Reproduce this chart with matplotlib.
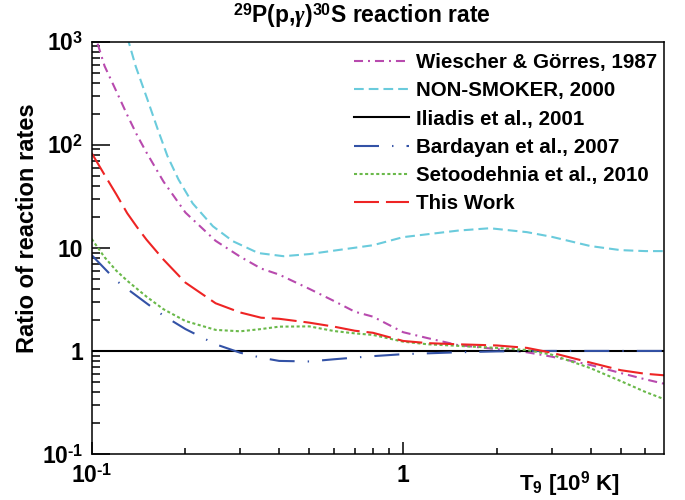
import matplotlib
matplotlib.use("Agg")
import matplotlib.pyplot as plt
from matplotlib.ticker import FixedLocator, FixedFormatter, NullFormatter

plt.rcParams["font.family"] = ["Liberation Sans", "DejaVu Sans"]
plt.rcParams["font.weight"] = "bold"
plt.rcParams["mathtext.fontset"] = "custom"
plt.rcParams["mathtext.rm"] = "Liberation Sans:bold"
plt.rcParams["mathtext.bf"] = "Liberation Sans:bold"
plt.rcParams["mathtext.it"] = "Liberation Serif:italic"
plt.rcParams["lines.scale_dashes"] = False

# rate ratios relative to Iliadis et al. 2001, vs T9
t_wg = [0.1, 0.104, 0.11, 0.12, 0.13, 0.14, 0.15, 0.17, 0.2, 0.25, 0.3, 0.35,
        0.4, 0.5, 0.6, 0.7, 0.8, 1.0, 1.2, 1.5, 2.0, 2.5, 3.0, 4.0, 5.0, 6.0, 6.9]
r_wg = [1500, 1000, 580, 330, 195, 123, 84, 44, 22, 11.7, 8.2, 6.3,
        5.5, 4.0, 3.05, 2.4, 2.15, 1.52, 1.33, 1.14, 1.04, 0.97, 0.88, 0.73, 0.61, 0.53, 0.48]

t_ns = [0.13, 0.1385, 0.151, 0.163, 0.175, 0.19, 0.211, 0.245, 0.284, 0.343,
        0.413, 0.5, 0.6, 0.8, 1.0, 1.5, 1.9, 2.5, 3.0, 4.0, 5.0, 6.0, 6.9]
r_ns = [1120, 575, 275, 141, 78, 46, 27, 16.2, 11.6, 8.9,
        8.3, 8.7, 9.4, 10.6, 12.7, 14.7, 15.5, 14.2, 12.8, 10.4, 9.5, 9.3, 9.3]

t_il = [0.1, 6.9]
r_il = [1.0, 1.0]

t_bd = [0.1, 0.11, 0.12, 0.13, 0.15, 0.17, 0.2, 0.25, 0.3, 0.35, 0.4, 0.5,
        0.6, 0.8, 1.0, 1.5, 2.0, 3.0, 4.0, 5.0, 6.9]
r_bd = [8.5, 6.3, 4.8, 4.0, 2.9, 2.2, 1.63, 1.16, 0.96, 0.86, 0.80, 0.79,
        0.83, 0.89, 0.93, 0.97, 0.99, 1.0, 1.0, 1.0, 1.0]

t_se = [0.1, 0.11, 0.12, 0.13, 0.15, 0.17, 0.2, 0.25, 0.3, 0.35, 0.4, 0.5,
        0.6, 0.7, 0.8, 1.0, 1.2, 1.5, 2.0, 2.5, 3.0, 4.0, 5.0, 6.0, 6.9]
r_se = [12.2, 8.1, 6.0, 4.8, 3.36, 2.54, 1.95, 1.6, 1.55, 1.63, 1.72, 1.73,
        1.56, 1.48, 1.43, 1.23, 1.16, 1.12, 1.07, 1.02, 0.92, 0.68, 0.51, 0.40, 0.34]

t_tw = [0.1, 0.11, 0.12, 0.13, 0.14, 0.15, 0.17, 0.2, 0.25, 0.3, 0.35, 0.4,
        0.5, 0.6, 0.7, 0.8, 1.0, 1.2, 1.5, 2.0, 2.5, 3.0, 4.0, 5.0, 6.0, 6.9]
r_tw = [83, 51, 33, 21.7, 15.8, 12, 7.7, 4.6, 2.9, 2.36, 2.1, 2.05,
        1.88, 1.72, 1.57, 1.5, 1.25, 1.19, 1.16, 1.13, 1.07, 0.96, 0.77, 0.65, 0.6, 0.58]

labels = ["Wiescher & Görres, 1987", "NON-SMOKER, 2000", "Iliadis et al., 2001",
          "Bardayan et al., 2007", "Setoodehnia et al., 2010", "This Work"]

fig = plt.figure(figsize=(6.85, 5), dpi=100)
ax = fig.add_axes([91.7 / 685, 1 - 454 / 500, (664.3 - 91.7) / 685, (454 - 41.7) / 500])

lw = 1.5
ax.plot(t_wg, r_wg, color="#b84aae", lw=lw, dashes=(6.5, 3.6, 1.4, 3.6), label=labels[0])
ax.plot(t_ns, r_ns, color="#6acbdc", lw=lw, dashes=(7, 3.6), label=labels[1])
ax.plot(t_il, r_il, color="black", lw=lw, label=labels[2])
ax.plot(t_bd, r_bd, color="#3352a6", lw=lw, dashes=(18, 9.4, 1, 9.4), label=labels[3])
ax.plot(t_se, r_se, color="#6ab94a", lw=lw, dashes=(2.2, 1.8), label=labels[4])
ax.plot(t_tw, r_tw, color="#ee2424", lw=lw, dashes=(18, 5), label=labels[5])

ax.set_xscale("log")
ax.set_yscale("log")
ax.set_xlim(0.1, 6.9)
ax.set_ylim(0.1, 1000)

ax.xaxis.set_major_locator(FixedLocator([0.1, 1]))
ax.xaxis.set_major_formatter(FixedFormatter([r"$10^{\text{-}1}$", "1"]))
ax.xaxis.set_minor_locator(FixedLocator([0.2, 0.3, 0.4, 0.5, 0.6, 0.7, 0.8, 0.9,
                                         2, 3, 4, 5, 6]))
ax.xaxis.set_minor_formatter(NullFormatter())

yticks = [0.1, 1, 10, 100, 1000]
ax.yaxis.set_major_locator(FixedLocator(yticks))
ax.yaxis.set_major_formatter(FixedFormatter([r"$10^{\text{-}1}$", "1", "10",
                                             r"$10^{2}$", r"$10^{3}$"]))
yminor = [m * 10.0 ** e for e in range(-1, 3) for m in range(2, 10)]
ax.yaxis.set_minor_locator(FixedLocator(yminor))
ax.yaxis.set_minor_formatter(NullFormatter())

ax.tick_params(axis="both", which="both", direction="in", labelsize=16.5, width=1.1)
ax.tick_params(axis="y", which="major", length=13, pad=6)
ax.tick_params(axis="y", which="minor", length=6)
ax.tick_params(axis="x", which="major", length=8.6, pad=7)
ax.tick_params(axis="x", which="minor", length=4.3)
for s in ax.spines.values():
    s.set_linewidth(1.1)

fig.text(0.528, 0.968, r"$^{29}$P(p,$\gamma$)$^{30}$S reaction rate",
         ha="center", va="center", fontsize=16.5, fontweight="bold")
fig.text(28 / 685, 0.544, "Ratio of reaction rates", rotation=90,
         ha="center", va="center", fontsize=17, fontweight="bold")
fig.text(620 / 685, 1 - 484 / 500, r"T$_9$ [10$^9$ K]", ha="right", va="center",
         fontsize=16, fontweight="bold")

ax.legend(loc="upper left", bbox_to_anchor=(354 / 685, 1 - 53 / 500),
          bbox_transform=fig.transFigure, frameon=False, fontsize=14.8,
          handlelength=2.68, handletextpad=0.34, labelspacing=0.45,
          borderpad=0, borderaxespad=0)

fig.savefig("out.png", dpi=100)
